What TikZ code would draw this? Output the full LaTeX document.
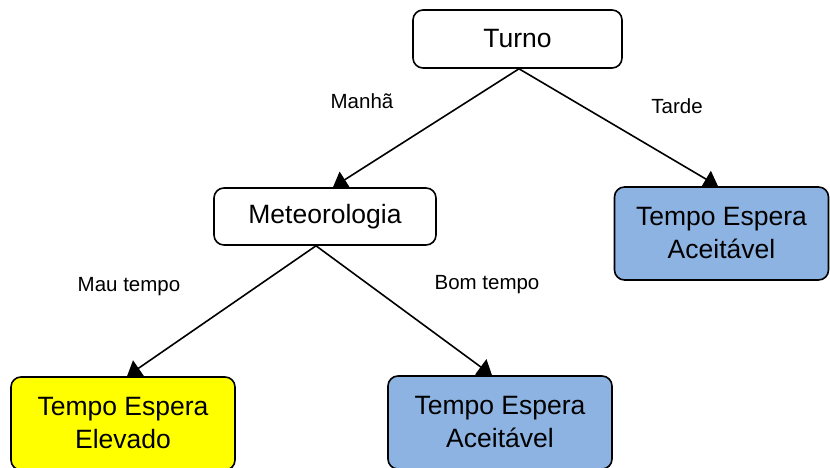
\documentclass[tikz,border=0pt]{standalone}
\usepackage{fontspec}
\setmainfont{Liberation Sans}
\usetikzlibrary{arrows.meta}
\definecolor{boxblue}{HTML}{8DB3E2}
\definecolor{boxyellow}{HTML}{FFFF00}
\begin{document}
\begin{tikzpicture}[x=1pt,y=-1pt,
  box/.style={draw=black, line width=1.6pt, rounded corners=10pt, align=center,
    font=\fontsize{26.5}{33}\selectfont, inner sep=0pt},
  lbl/.style={font=\fontsize{20.5}{24}\selectfont, inner sep=0pt},
  conn/.style={line width=1.6pt, -{Triangle[width=19pt,length=14pt]}}]
\useasboundingbox (0,0) rectangle (830,468);
\node[box, minimum width=209pt, minimum height=58pt] (t) at (517.5,39) {Turno};
\node[box, minimum width=222pt, minimum height=57pt] (m) at (325,216.5) {Meteorologia};
\node[box, fill=boxblue, minimum width=214pt, minimum height=93pt] (r) at (721.5,233.5) {Tempo Espera\\Aceitável};
\node[box, fill=boxyellow, minimum width=224pt, minimum height=93pt] (y) at (123,423.5) {Tempo Espera\\Elevado};
\node[box, fill=boxblue, minimum width=224pt, minimum height=93pt] (b) at (500,422.5) {Tempo Espera\\Aceitável};
\draw[conn] ([xshift=1.5pt]t.south) -- ([xshift=8pt]m.north);
\draw[conn] ([xshift=1.5pt]t.south) -- ([xshift=-3.5pt]r.north);
\draw[conn] ([xshift=-9pt]m.south) -- ([xshift=4pt]y.north);
\draw[conn] ([xshift=-9pt]m.south) -- ([xshift=-8pt]b.north);
\node[lbl] (l1) at (362,101) {Manhã};
\node[lbl] (l2) at (677,106) {Tarde};
\node[lbl] (l3) at (129,287) {Mau tempo};
\node[lbl] (l4) at (487,285) {Bom tempo};
\end{tikzpicture}
\end{document}
